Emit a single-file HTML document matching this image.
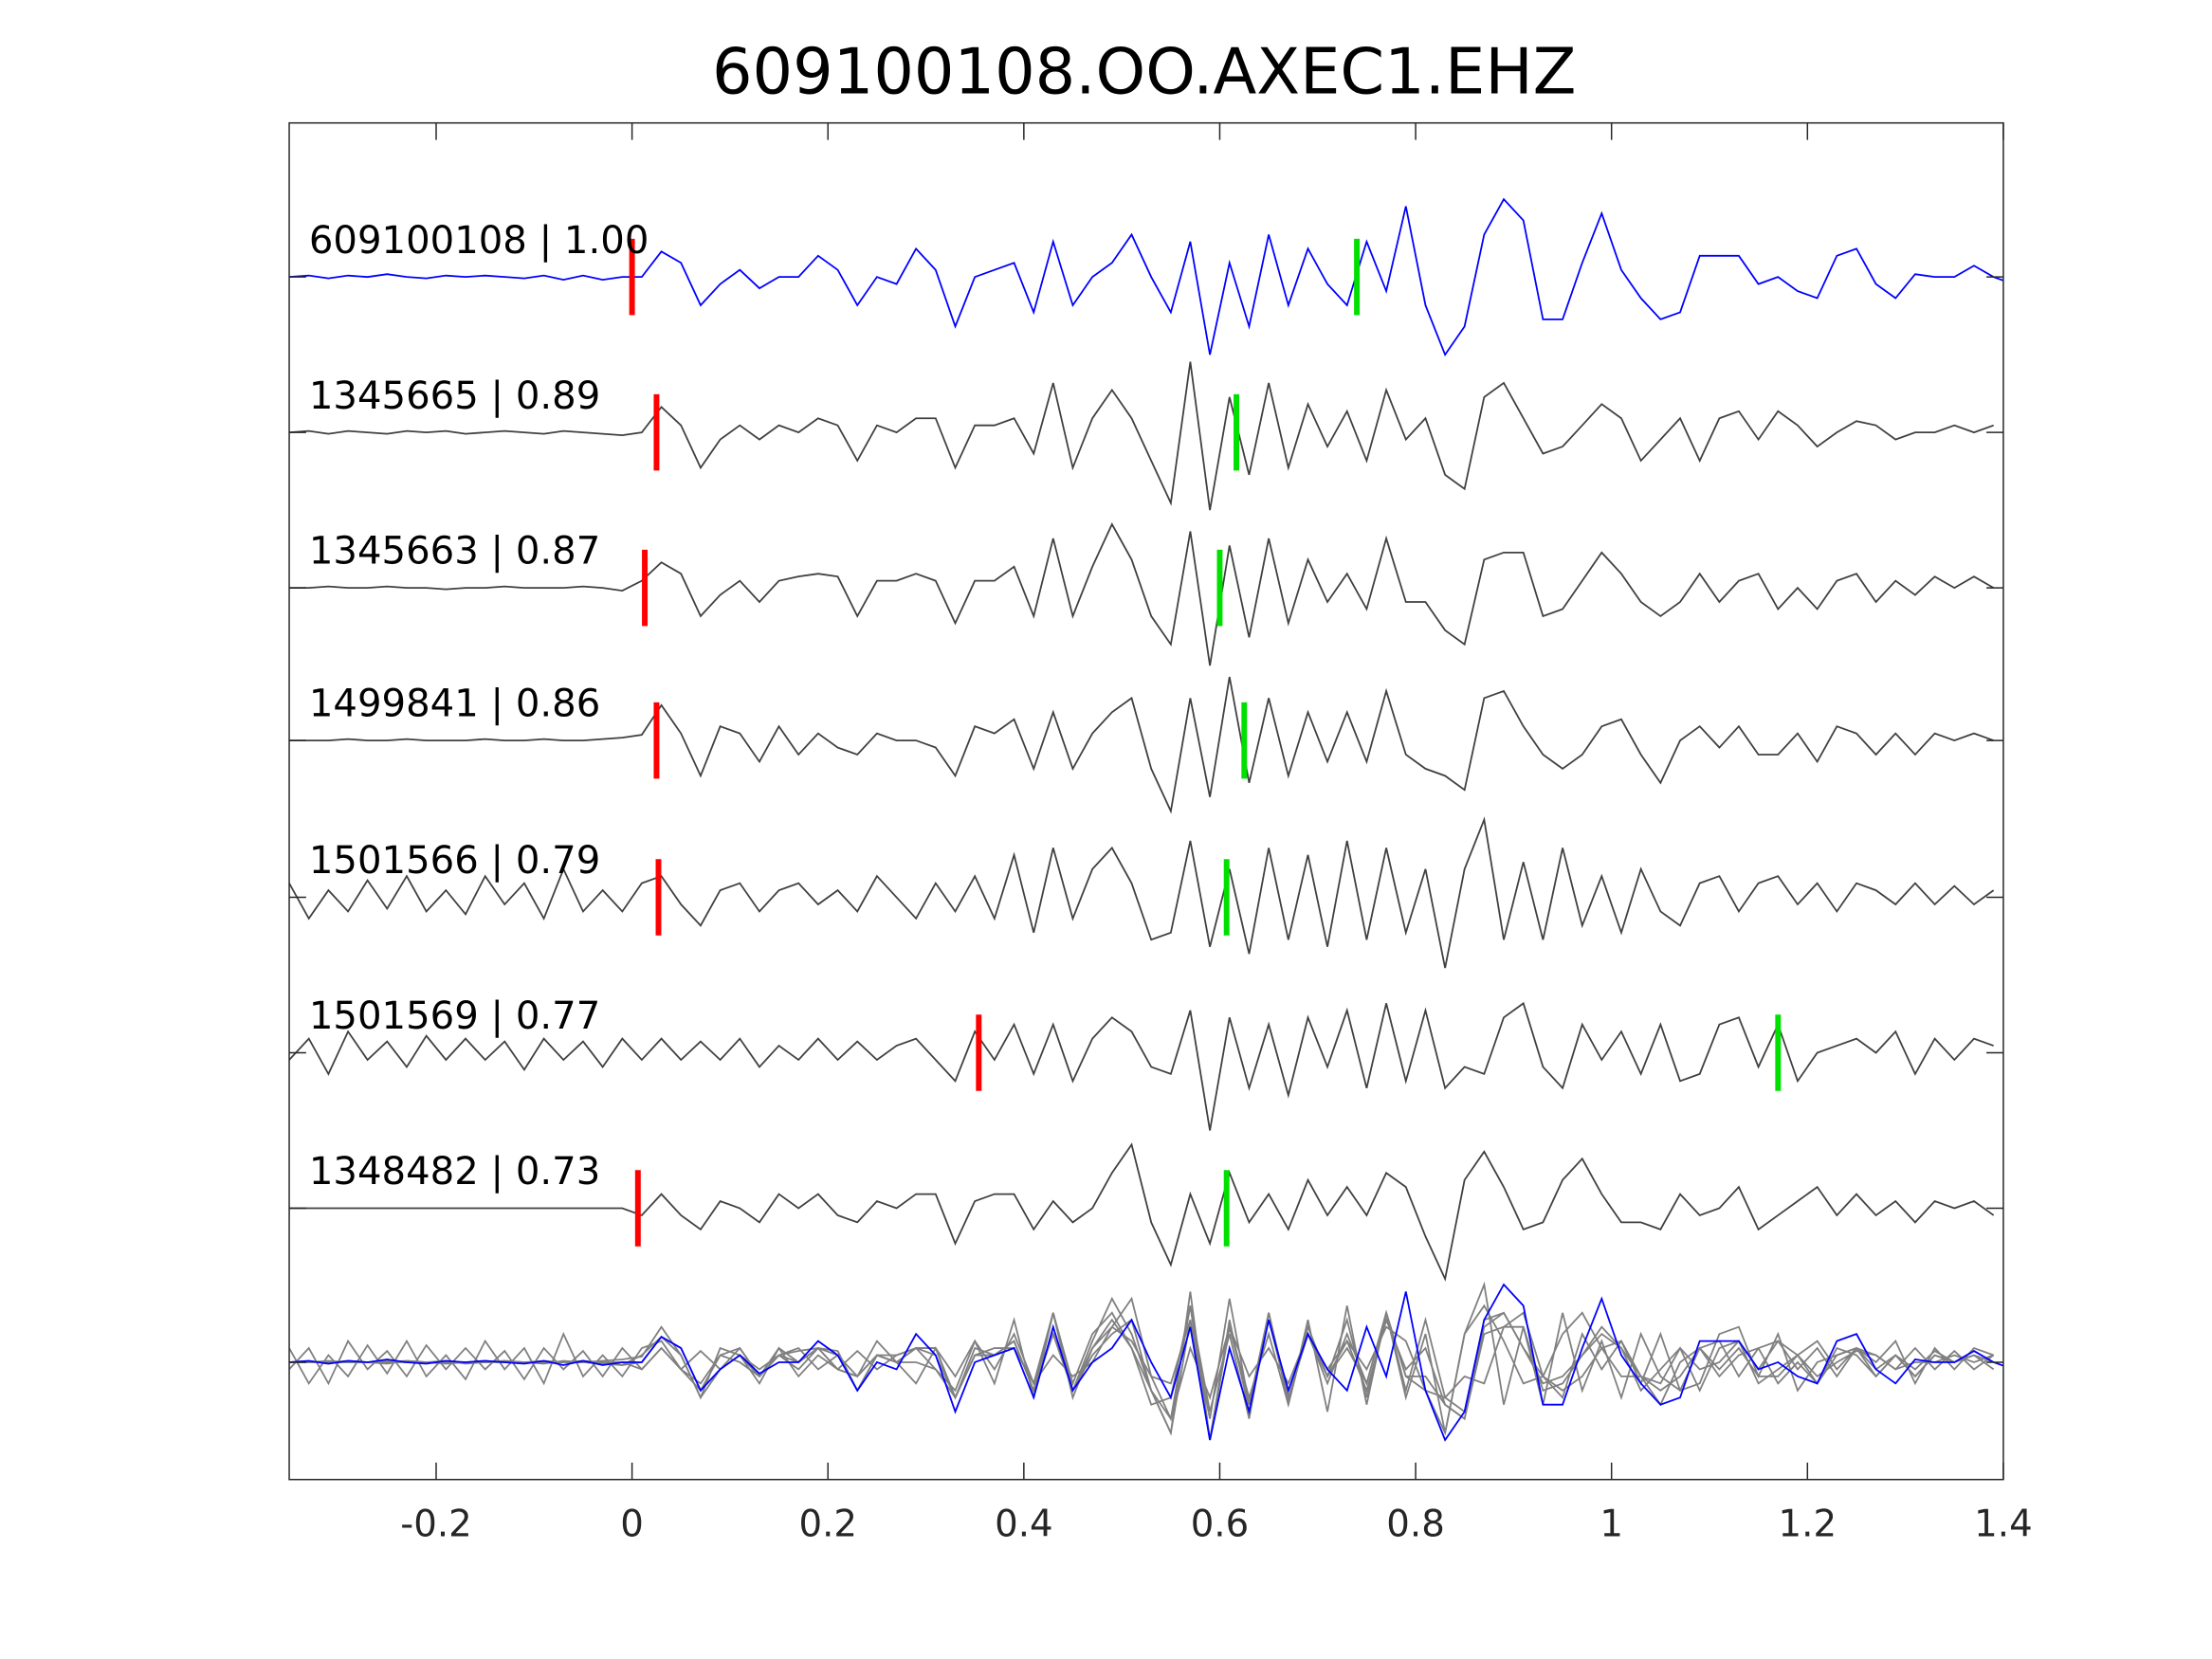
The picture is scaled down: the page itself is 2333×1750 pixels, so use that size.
<!DOCTYPE html>
<html><head><meta charset="utf-8"><style>
html,body{margin:0;padding:0;background:#fff;}
svg{display:block;font-family:"DejaVu Sans","Liberation Sans",sans-serif;}
</style></head><body>
<svg id="chart" width="2333" height="1750" viewBox="0 0 1567.9 1174" preserveAspectRatio="none" xmlns="http://www.w3.org/2000/svg">
<defs><clipPath id="pc"><rect x="205" y="87" width="1215" height="960"/></clipPath></defs>
<rect x="0" y="0" width="1567.9" height="1174" fill="#fff"/>
<text x="811" y="66" text-anchor="middle" font-size="45" fill="#000">609100108.OO.AXEC1.EHZ</text>
<g id="plot" clip-path="url(#pc)"></g>
<rect x="205" y="87" width="1215" height="960" fill="none" stroke="#262626" stroke-width="1"/>
<g id="xticks"></g>
</svg>
<script>
const tStart = -0.35, tStep = 0.02;
const xTicks = [-0.2, 0, 0.2, 0.4, 0.6, 0.8, 1, 1.2, 1.4];
const xTickLabels = ["-0.2","0","0.2","0.4","0.6","0.8","1","1.2","1.4"];
const traceNames = ["609100108 | 1.00","1345665 | 0.89","1345663 | 0.87","1499841 | 0.86","1501566 | 0.79","1501569 | 0.77","1348482 | 0.73"];
const redPicks = [0.0, 0.025, 0.013, 0.025, 0.027, 0.354, 0.006];
const greenPicks = [0.74, 0.617, 0.6, 0.625, 0.607, 1.17, 0.607];
const trace1 = [0,1,-1,1,0,2,0,-1,1,0,1,0,-1,1,-2,1,-2,0,
 0,18,10,-20,-5,5,-8,0,0,15,5,-20,0,-5,20,5,-35,0,5,10,-25,25,-20,0,10,30,0,-25,25,-55,10,-35,30,-20,20,-5,-20,25,-10,50,-20,-55,-35,30,55,40,-30,-30,10,45,5,-15,-30,-25,15,15,15,-5,0,-10,-15,15,20,-5,-15,2,0,0,8,0,-5];
const trace2 = [0,1,-1,1,0,-1,1,0,1,-1,0,1,0,-1,1,0,-1,-2,
 0,18,5,-25,-5,5,-5,5,0,10,5,-20,5,0,10,10,-25,5,5,10,-15,35,-25,10,30,10,-20,-50,50,-55,25,-30,35,-25,20,-10,15,-20,30,-5,10,-30,-40,25,35,10,-15,-10,5,20,10,-20,-5,10,-20,10,15,-5,15,5,-10,0,8,5,-5,0,0,5,0,5];
const trace3 = [0,0,1,0,0,1,0,0,-1,0,0,1,0,0,0,1,0,-2,
 5,18,10,-20,-5,5,-10,5,8,10,8,-20,5,5,10,5,-25,5,5,15,-20,35,-20,15,45,20,-20,-40,40,-55,30,-35,35,-25,20,-10,10,-15,35,-10,-10,-30,-40,20,25,25,-20,-15,5,25,10,-10,-20,-10,10,-10,5,10,-15,0,-15,5,10,-10,5,-5,8,0,8,0];
const trace4 = [0,0,0,1,0,0,1,0,0,0,1,0,0,1,0,0,1,2,
 4,25,5,-25,10,5,-15,10,-10,5,-5,-10,5,0,0,-5,-25,10,5,15,-20,20,-20,5,20,30,-20,-50,30,-40,45,-30,30,-25,20,-15,20,-15,35,-10,-20,-25,-35,30,35,10,-10,-20,-10,10,15,-10,-30,0,10,-5,10,-10,-10,5,-15,10,5,-10,5,-10,5,0,5,0];
const trace5 = [10,-15,5,-10,12,-8,15,-10,5,-12,15,-5,10,-15,20,-10,5,-10,
 10,15,-5,-20,5,10,-10,5,10,-5,5,-10,15,0,-15,10,-10,15,-15,30,-25,35,-15,20,35,10,-30,-25,40,-35,20,-40,35,-30,30,-35,40,-30,35,-25,20,-50,20,55,-30,25,-30,35,-20,15,-25,20,-10,-20,10,15,-10,10,15,-5,10,-10,10,5,-5,10,-5,8,-5,5];
const trace6 = [-5,10,-15,15,-5,8,-10,12,-5,10,-5,8,-12,10,-5,8,-10,10,
 -5,10,-5,8,-5,10,-10,5,-5,10,-5,8,-5,5,10,-5,-20,15,-5,20,-15,20,-20,10,25,15,-10,-15,30,-55,25,-25,20,-30,25,-10,30,-25,35,-20,30,-25,-10,-15,25,35,-10,-25,20,-5,15,-15,20,-20,-15,20,25,-10,20,-20,0,5,10,0,15,-15,10,-5,10,5];
const trace7 = [0,0,0,0,0,0,0,0,0,0,0,0,0,0,0,0,0,0,
 -5,10,-5,-15,5,0,-10,10,0,10,-5,-10,5,0,10,10,-25,5,10,10,-15,5,-10,0,25,45,-10,-40,10,-25,25,-10,10,-15,20,-5,15,-5,25,15,-20,-50,20,40,15,-15,-10,20,35,10,-10,-10,-15,10,-5,0,15,-15,-5,5,15,-5,10,-5,5,-10,5,0,5,-5];
const traces = [trace1,trace2,trace3,trace4,trace5,trace6,trace7];
const baselines = [196,306,416,524,635,745,855];
const overlayBase = 964;

const NS = "http://www.w3.org/2000/svg";
function xs(t){ return 205 + (t + 0.35) * (1215 / 1.75); }
function mk(tag, attrs, parent){ const e = document.createElementNS(NS, tag); for (const k in attrs) e.setAttribute(k, attrs[k]); parent.appendChild(e); return e; }
function pts(arr, base, scale){ return arr.map((v,i)=> xs(tStart + i*tStep).toFixed(1)+","+(base - v*scale).toFixed(1)).join(" "); }

const plot = document.getElementById("plot");
for (let k = 1; k < traces.length; k++) {
  const p = mk("polyline", {points: pts(traces[k], overlayBase, 1), fill:"none", stroke:"#808080", "stroke-width":"1.2"}, plot);
  
  
}
const ob = mk("polyline", {points: pts(traces[0], overlayBase, 1), fill:"none", stroke:"#0000ff", "stroke-width":"1.2"}, plot);



for (let k = 0; k < traces.length; k++) {
  const b = baselines[k];
  const line = mk("polyline", {points: pts(traces[k], b, 1), fill:"none", stroke: k===0 ? "#0000ff" : "#404040", "stroke-width":"1.2"}, plot);
  
  
  const r = mk("line", {x1: xs(redPicks[k]), x2: xs(redPicks[k]), y1: b-27, y2: b+27, stroke:"#ff0000", "stroke-width":"4"}, plot);
  
  
  const g = mk("line", {x1: xs(greenPicks[k]), x2: xs(greenPicks[k]), y1: b-27, y2: b+27, stroke:"#00e000", "stroke-width":"4"}, plot);
  
  
  const tx = mk("text", {x: 219, y: b - 17, "font-size": "27", fill:"#000"}, plot);
  tx.textContent = traceNames[k];
  
  
}
const xt = document.getElementById("xticks");
xTicks.forEach((t,i)=>{
  const x = xs(t);
  const a = mk("line", {x1:x,x2:x,y1:1047,y2:1035,stroke:"#262626","stroke-width":"1"}, xt);
  
  
  const c = mk("line", {x1:x,x2:x,y1:87,y2:99,stroke:"#262626","stroke-width":"1"}, xt);
  
  
  const l = mk("text", {x:x, y:1087, "text-anchor":"middle", "font-size":"26", fill:"#262626"}, xt);
  l.textContent = xTickLabels[i];
  
  
});
baselines.concat([overlayBase]).forEach(b=>{
  const a = mk("line", {x1:205,x2:217,y1:b,y2:b,stroke:"#262626","stroke-width":"1"}, xt);
  
  
  const c = mk("line", {x1:1408,x2:1420,y1:b,y2:b,stroke:"#262626","stroke-width":"1"}, xt);
  
  
});
</script>
</body></html>
